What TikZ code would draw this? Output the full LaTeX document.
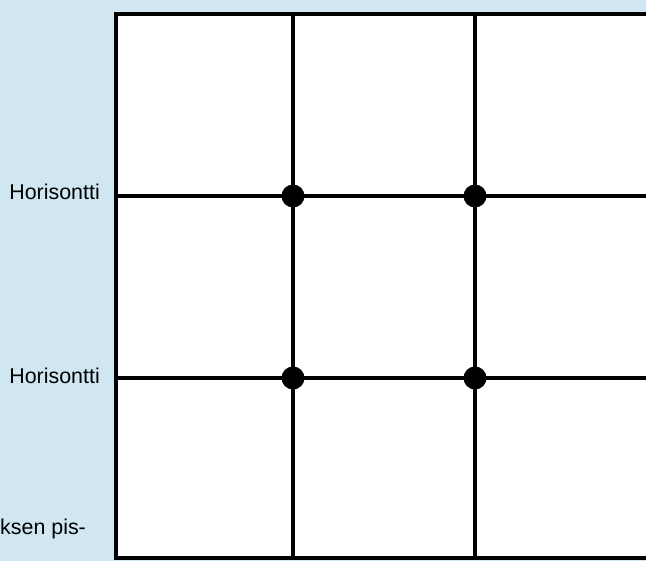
\documentclass[tikz,border=0pt]{standalone}
\usepackage{fontspec}
\setmainfont{Liberation Sans}
\definecolor{bgblue}{RGB}{208,230,240}
\begin{document}
\begin{tikzpicture}[x=1bp,y=-1bp,
  gridline/.style={line width=4bp,black},
  dot/.style={circle,fill=black,inner sep=0pt,minimum size=23bp},
  lbl/.style={anchor=base east,inner sep=0pt,font=\fontsize{21.5}{25}\selectfont}]
\useasboundingbox (0,0) rectangle (646,561);
\fill[bgblue] (0,0) rectangle (646,561);
\fill[white] (116,14) rectangle (646,558);
\draw[line width=3.2bp] (648,14) -- (116,14) -- (116,558) -- (648,558);
\coordinate (t1) at (293,14);
\coordinate (b1) at (293,558);
\coordinate (t2) at (475,14);
\coordinate (b2) at (475,558);
\coordinate (l1) at (116,196);
\coordinate (r1) at (646,196);
\coordinate (l2) at (116,378);
\coordinate (r2) at (646,378);
\draw[gridline] (t1) -- (b1);
\draw[gridline] (t2) -- (b2);
\draw[gridline] (l1) -- (r1);
\draw[gridline] (l2) -- (r2);
\node[dot] (d11) at (293,196) {};
\node[dot] (d12) at (475,196) {};
\node[dot] (d21) at (293,378) {};
\node[dot] (d22) at (475,378) {};
\node[lbl] (h1) at (100,200) {Horisontti};
\node[lbl] (h2) at (100,383) {Horisontti};
\node[lbl,anchor=base west] (p) at (0,534) {ksen pis-};
\end{tikzpicture}
\end{document}
